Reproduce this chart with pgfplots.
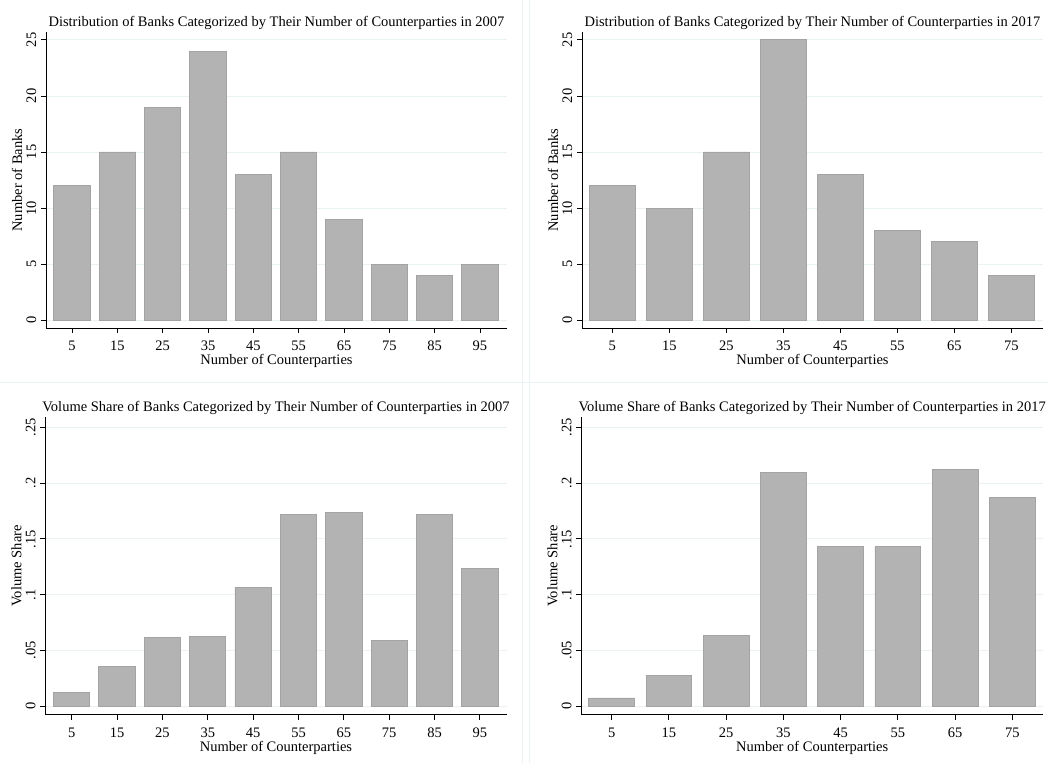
\documentclass[border=0pt]{standalone}
\usepackage{pgfplots}
\pgfplotsset{compat=1.18}
\usepackage{fontspec}
\setmainfont{Liberation Serif}
\definecolor{barfill}{RGB}{179,179,179}
\definecolor{baredge}{RGB}{163,163,163}
\definecolor{gridc}{RGB}{234,242,243}
\pgfplotsset{
 stata/.style={
  scale only axis, anchor=south west,
  axis x line*=bottom, axis y line*=left,
  axis line style={black, line width=0.9pt, -},
  tick align=outside, major tick length=5pt,
  tick style={black, line width=0.9pt},
  ymajorgrids, grid style={gridc, line width=0.9pt},
  ybar, bar width=8,
  font=\fontsize{14.5}{17}\selectfont,
  /pgf/number format/assume math mode=true,
  yticklabel style={rotate=90, anchor=south, inner sep=0pt},
  xticklabel style={anchor=north, inner sep=0pt},
  xticklabel shift=8pt, yticklabel shift=4.5pt,
  every axis title shift=0pt,
  title style={at={(axis description cs:0.5,1.02)}, anchor=base, inner sep=0pt},
  xlabel style={at={(axis description cs:0.5,-0.124)}, anchor=base, inner sep=0pt},
  ylabel style={at={(axis description cs:-0.052,0.5)}, anchor=base, inner sep=0pt},
  xlabel={Number of Counterparties},
 },
 barstyle/.style={fill=barfill, draw=baredge, line width=0.9pt},
}
\begin{document}
\begin{tikzpicture}[x=1pt,y=1pt]
\path[use as bounding box] (0,0) rectangle (1048,763);
\draw[gridc, line width=0.9pt] (522.7,0) -- (522.7,763) (529.3,0) -- (529.3,763) (0,380.3) -- (1048,380.3);
% top left
\begin{axis}[stata, at={(46pt,435pt)}, width=461pt, height=296pt,
  xmin=-0.74, xmax=100.96, ymin=-0.71, ymax=25.71,
  xtick={5,15,25,35,45,55,65,75,85,95}, ytick={0,5,10,15,20,25},
  title={Distribution of Banks Categorized by Their Number of Counterparties in 2007},
  ylabel={Number of Banks}]
\addplot[barstyle] coordinates {(5,12) (15,15) (25,19) (35,24) (45,13) (55,15) (65,9) (75,5) (85,4) (95,5)};
\end{axis}
% top right
\begin{axis}[stata, at={(582pt,435pt)}, width=461pt, height=296pt,
  xmin=-0.32, xmax=80.56, ymin=-0.71, ymax=25.71,
  xtick={5,15,25,35,45,55,65,75}, ytick={0,5,10,15,20,25},
  title={Distribution of Banks Categorized by Their Number of Counterparties in 2017},
  ylabel={Number of Banks}]
\addplot[barstyle] coordinates {(5,12) (15,10) (25,15) (35,25) (45,13) (55,8) (65,7) (75,4)};
\end{axis}
% bottom left
\begin{axis}[stata, at={(45.3pt,48.3pt)}, width=461.4pt, height=297.4pt,
  xmin=-0.82, xmax=100.9, ymin=-0.0075, ymax=0.259,
  xtick={5,15,25,35,45,55,65,75,85,95}, ytick={0,0.05,0.1,0.15,0.2,0.25},
  yticklabels={0,.05,.1,.15,.2,.25},
  title={Volume Share of Banks Categorized by Their Number of Counterparties in 2007},
  ylabel={Volume Share}]
\addplot[barstyle] coordinates {(5,0.012) (15,0.0355) (25,0.0615) (35,0.063) (45,0.1066) (55,0.1717) (65,0.1738) (75,0.059) (85,0.172) (95,0.1237)};
\end{axis}
% bottom right
\begin{axis}[stata, at={(581.3pt,48.3pt)}, width=461.7pt, height=297.4pt,
  xmin=-0.31, xmax=80.36, ymin=-0.0075, ymax=0.259,
  xtick={5,15,25,35,45,55,65,75}, ytick={0,0.05,0.1,0.15,0.2,0.25},
  yticklabels={0,.05,.1,.15,.2,.25},
  title={Volume Share of Banks Categorized by Their Number of Counterparties in 2017},
  ylabel={Volume Share}]
\addplot[barstyle] coordinates {(5,0.0075) (15,0.0278) (25,0.0636) (35,0.2097) (45,0.1431) (55,0.1431) (65,0.2124) (75,0.1873)};
\end{axis}
\end{tikzpicture}
\end{document}
